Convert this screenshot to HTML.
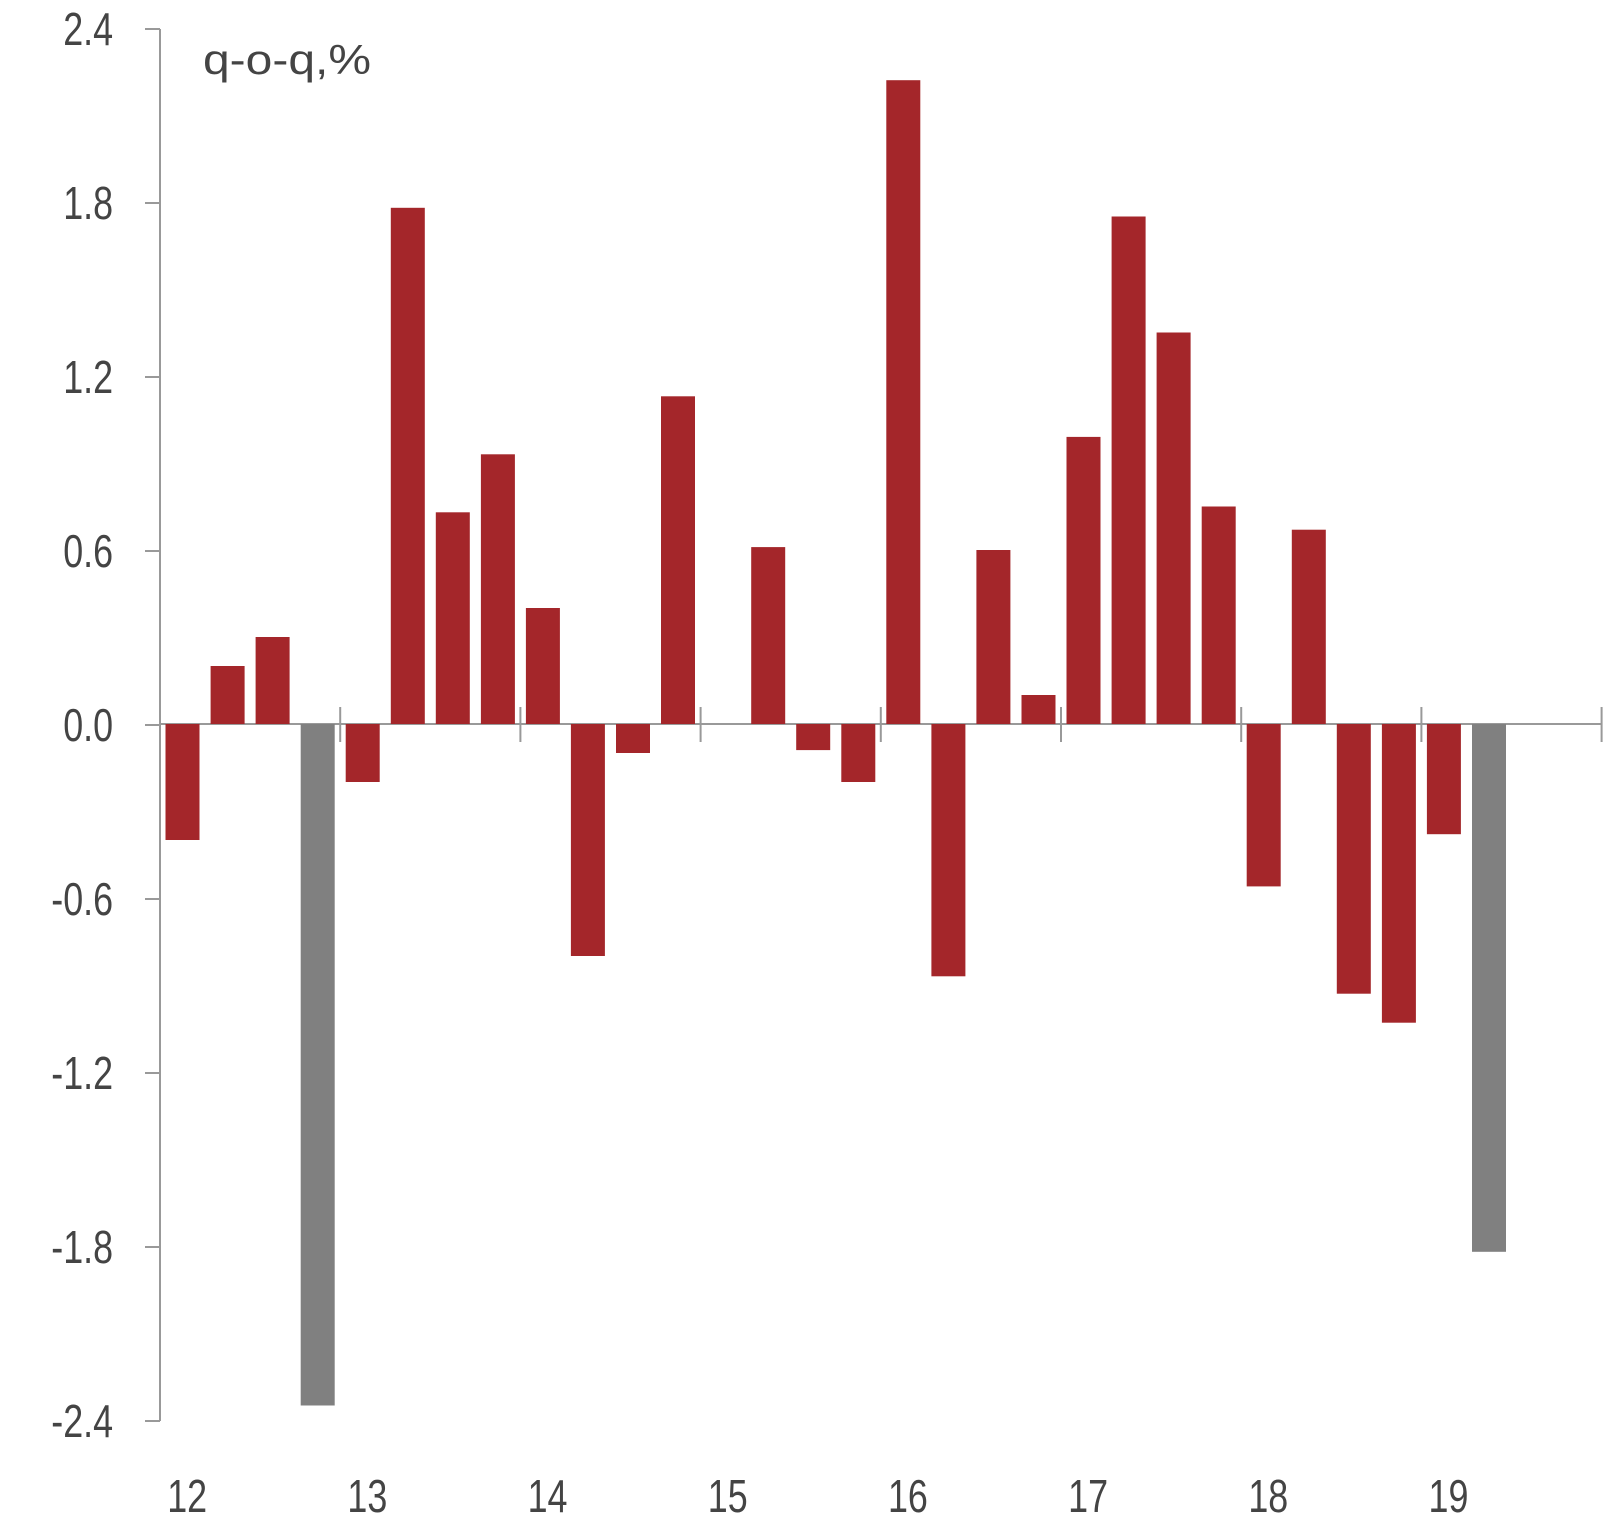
<!DOCTYPE html>
<html><head><meta charset="utf-8"><style>
html,body{margin:0;padding:0;background:#fff;}
svg{display:block;}
text{font-family:"Liberation Sans",sans-serif;fill:#444;}
</style></head><body>
<svg width="1618" height="1540" viewBox="0 0 1618 1540" xmlns="http://www.w3.org/2000/svg">
<g stroke="#999" stroke-width="2" fill="none">
<line x1="160" y1="29" x2="160" y2="1421"/>
<line x1="145" y1="29" x2="160" y2="29"/>
<line x1="145" y1="203" x2="160" y2="203"/>
<line x1="145" y1="377" x2="160" y2="377"/>
<line x1="145" y1="551" x2="160" y2="551"/>
<line x1="145" y1="725" x2="160" y2="725"/>
<line x1="145" y1="899" x2="160" y2="899"/>
<line x1="145" y1="1073" x2="160" y2="1073"/>
<line x1="145" y1="1247" x2="160" y2="1247"/>
<line x1="145" y1="1421" x2="160" y2="1421"/>
<line x1="160" y1="724" x2="1602" y2="724"/>
</g>
<g fill="#a4262a">
<rect x="165.5" y="724" width="34" height="116"/>
<rect x="210.6" y="666" width="34" height="58"/>
<rect x="255.6" y="637" width="34" height="87"/>
<rect x="300.7" y="724" width="34" height="681.5" fill="#808080"/>
<rect x="345.7" y="724" width="34" height="58"/>
<rect x="390.8" y="207.8" width="34" height="516.2"/>
<rect x="435.8" y="512.3" width="34" height="211.7"/>
<rect x="480.9" y="454.3" width="34" height="269.7"/>
<rect x="525.9" y="608" width="34" height="116"/>
<rect x="570.9" y="724" width="34" height="232"/>
<rect x="616" y="724" width="34" height="29"/>
<rect x="661" y="396.3" width="34" height="327.7"/>
<rect x="751.2" y="547.1" width="34" height="176.9"/>
<rect x="796.2" y="724" width="34" height="26.1"/>
<rect x="841.3" y="724" width="34" height="58"/>
<rect x="886.3" y="80.2" width="34" height="643.8"/>
<rect x="931.4" y="724" width="34" height="252.3"/>
<rect x="976.4" y="550" width="34" height="174"/>
<rect x="1021.5" y="695" width="34" height="29"/>
<rect x="1066.5" y="436.9" width="34" height="287.1"/>
<rect x="1111.6" y="216.5" width="34" height="507.5"/>
<rect x="1156.6" y="332.5" width="34" height="391.5"/>
<rect x="1201.7" y="506.5" width="34" height="217.5"/>
<rect x="1246.7" y="724" width="34" height="162.4"/>
<rect x="1291.8" y="529.7" width="34" height="194.3"/>
<rect x="1336.8" y="724" width="34" height="269.7"/>
<rect x="1381.9" y="724" width="34" height="298.7"/>
<rect x="1426.9" y="724" width="34" height="110.2"/>
<rect x="1472" y="724" width="34" height="527.8" fill="#808080"/>
</g>
<g stroke="#999" stroke-width="2" fill="none">
<line x1="160" y1="707" x2="160" y2="742"/>
<line x1="340.2" y1="707" x2="340.2" y2="742"/>
<line x1="520.4" y1="707" x2="520.4" y2="742"/>
<line x1="700.6" y1="707" x2="700.6" y2="742"/>
<line x1="880.8" y1="707" x2="880.8" y2="742"/>
<line x1="1061" y1="707" x2="1061" y2="742"/>
<line x1="1241.2" y1="707" x2="1241.2" y2="742"/>
<line x1="1421.4" y1="707" x2="1421.4" y2="742"/>
<line x1="1601.6" y1="707" x2="1601.6" y2="742"/>
</g>
<g font-size="46" text-anchor="end" transform="scale(0.78,1)">
<text x="145" y="45">2.4</text>
<text x="145" y="219">1.8</text>
<text x="145" y="393">1.2</text>
<text x="145" y="567">0.6</text>
<text x="145" y="741">0.0</text>
<text x="145" y="915">-0.6</text>
<text x="145" y="1089">-1.2</text>
<text x="145" y="1263">-1.8</text>
<text x="145" y="1437">-2.4</text>
</g>
<text x="203" y="74" font-size="42" textLength="168" lengthAdjust="spacingAndGlyphs">q-o-q,%</text>
<g font-size="46" text-anchor="middle" transform="scale(0.78,1)">
<text x="240" y="1512">12</text>
<text x="471" y="1512">13</text>
<text x="702" y="1512">14</text>
<text x="933" y="1512">15</text>
<text x="1164" y="1512">16</text>
<text x="1395" y="1512">17</text>
<text x="1626" y="1512">18</text>
<text x="1857" y="1512">19</text>
</g>
</svg>
</body></html>
